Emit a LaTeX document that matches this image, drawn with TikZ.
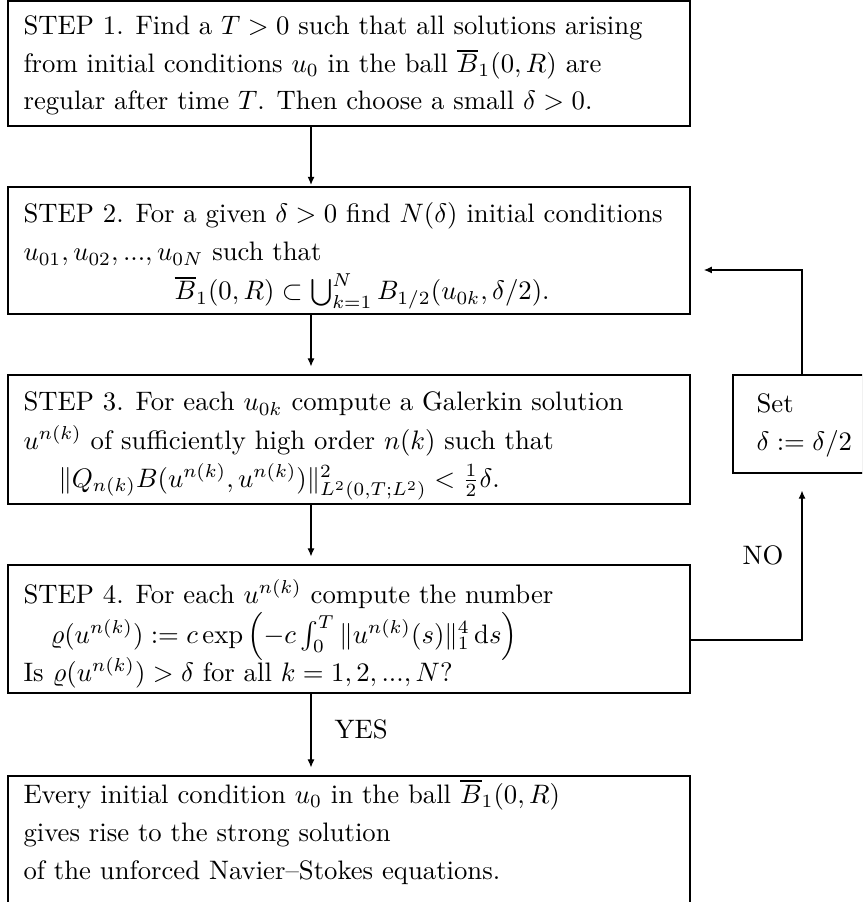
\documentclass[tikz,border=0pt]{standalone}
\usepackage{amsmath,amssymb}
\usetikzlibrary{arrows.meta,fit,shadows}
\begin{document}
\begin{tikzpicture}[x=0.3745pt,y=-0.3745pt,
  box/.style={draw,line width=0.4pt,inner sep=0pt,fill=white,
    drop shadow={shadow xshift=0.4pt,shadow yshift=-0.4pt,fill=black!50,opacity=1}},
  txt/.style={anchor=base west,inner sep=0pt},
  arr/.style={-{Latex[length=3pt,width=2.6pt]},line width=0.4pt},
  lab/.style={anchor=base west,inner sep=0pt}]
\useasboundingbox (0,0) rectangle (862,902);
\clip (0,0) rectangle (862,902);

% boxes
\node[box,fit={(8,1)(690,126)}] (b1) {};
\node[box,fit={(8,187)(690,314)}] (b2) {};
\node[box,fit={(8,375)(690,504)}] (b3) {};
\node[box,fit={(8,565)(690,693)}] (b4) {};
\node[box,fit={(8,776)(690,940)}] (b5) {};
\node[box,fit={(733,375)(900,473)}] (s) {};

% texts
\node[txt] (t11) at (23,35) {STEP 1. Find a $T>0$ such that all solutions arising};
\node[txt] (t12) at (23,73) {from initial conditions $u_0$ in the ball $\overline{B}_1(0,R)$ are};
\node[txt] (t13) at (23,110) {regular after time $T$. Then choose a small $\delta>0$.};

\node[txt] (t21) at (23,223) {STEP 2. For a given $\delta>0$ find $N(\delta)$ initial conditions};
\node[txt] (t22) at (23,261) {$u_{01},u_{02},...,u_{0N}$ such that};
\node[txt] (t23) at (174,300) {$\overline{B}_1(0,R)\subset\bigcup_{k=1}^N B_{1/2}(u_{0k},\delta/2)$.};

\node[txt] (t31) at (23,411) {STEP 3. For each $u_{0k}$ compute a Galerkin solution};
\node[txt] (t32) at (23,449) {$u^{n(k)}$ of sufficiently high order $n(k)$ such that};
\node[txt] (t33) at (58,487) {$\|Q_{n(k)}B(u^{n(k)},u^{n(k)})\|^2_{L^2(0,T;L^2)}<\frac{1}{2}\delta$.};

\node[txt] (t41) at (23,603) {STEP 4. For each $u^{n(k)}$ compute the number};
\node[txt] (t42) at (50,643) {$\varrho(u^{n(k)}) := c\exp\left(-c\int_0^T\|u^{n(k)}(s)\|_1^4\,\mathrm{d}s\right)$};
\node[txt] (t43) at (23,681) {Is $\varrho(u^{n(k)})>\delta$ for all $k=1,2,...,N$?};

\node[txt] (t51) at (23,803) {Every initial condition $u_0$ in the ball $\overline{B}_1(0,R)$};
\node[txt] (t52) at (23,841) {gives rise to the strong solution};
\node[txt] (t53) at (23,879) {of the unforced Navier--Stokes equations.};

\node[txt] (s1) at (756,413) {Set};
\node[txt] (s2) at (756,451) {$\delta:=\delta/2$};

% main arrows
\coordinate (ax) at (311,0);
\draw[arr,shorten >=0.6pt] (b1.south -| ax) -- (b2.north -| ax);
\draw[arr,shorten >=3pt] (b2.south -| ax) -- (b3.north -| ax);
\draw[arr,shorten >=3pt] (b3.south -| ax) -- (b4.north -| ax);
\draw[arr,shorten >=3pt] (b4.south -| ax) -- (b5.north -| ax);

% feedback loop
\coordinate (fx) at (802,640);
\coordinate (fy) at (802,270);
\draw[arr,shorten >=6.4pt] (b4.east |- fx) -- (fx) -- (s.south -| fx);
\draw[arr,shorten >=5pt] (s.north -| fy) -- (fy) -- (b2.east |- fy);

% labels
\node[lab] (yes) at (334,738) {YES};
\node[lab] (no) at (742,564) {NO};
\end{tikzpicture}
\end{document}
